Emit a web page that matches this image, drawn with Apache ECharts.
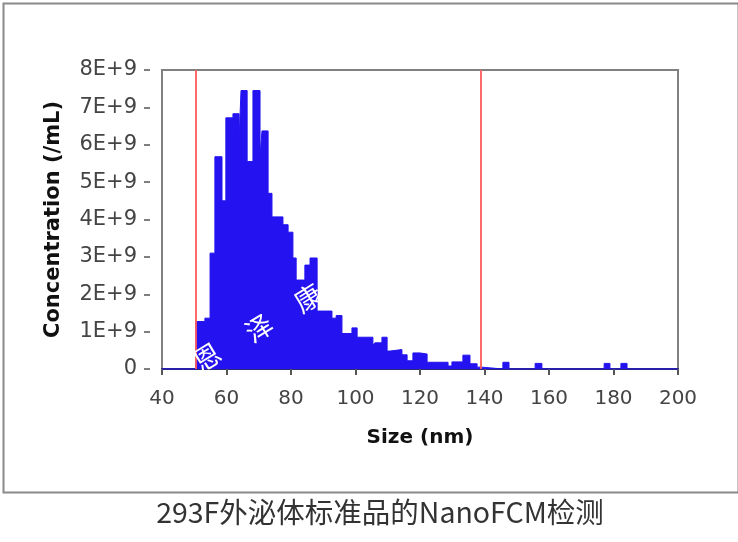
<!DOCTYPE html>
<html>
<head>
<meta charset="utf-8">
<script src="https://cdn.jsdelivr.net/npm/echarts@6/dist/echarts.min.js"></script>
<style>
html,body{margin:0;padding:0;background:#ffffff;}
#chart{width:738px;height:542px;}
</style>
</head>
<body>
<div id="chart"></div>
<script>
// Histogram bins: left edge of each bin (nm) and concentration (×1E+9 /mL)
const binStart = [40, 50.5, 53.3, 54.9, 56.4, 58.6, 59.8, 62.0, 63.9, 64.5, 66.4, 68.2, 70.4, 71.0, 72.9, 74.1, 77.5, 79.1, 80.6, 81.6, 84.3, 85.9, 88.1, 92.7, 94.0, 95.8, 98.9, 100.5, 105.4, 106.0, 108.2, 109.8, 110.7, 114.4, 116.0, 117.8, 120.0, 122.2, 128.7, 129.9, 133.3, 135.5, 137.7, 139.2, 145.7, 147.6, 155.7, 157.8, 177.1, 178.9, 182.3, 184.2, 200];
const concentrationE9 = [0, 1.27, 1.36, 3.1, 5.68, 4.5, 6.72, 6.83, 6.1, 7.45, 5.55, 7.45, 5.7, 6.37, 4.7, 4.07, 3.86, 3.66, 2.97, 2.38, 2.78, 2.97, 1.55, 1.36, 1.43, 0.95, 1.1, 0.85, 0.64, 0.7, 0.85, 0.48, 0.52, 0.38, 0.22, 0.43, 0.4, 0.18, 0.08, 0.19, 0.37, 0.14, 0.05, 0, 0.18, 0, 0.15, 0, 0.15, 0, 0.15, 0, 0];
// Gate lines (nm)
const gateLines = [50.5, 138.7];
// Axis settings
const xMin = 40, xMax = 200, xStep = 20;
const yMin = 0, yMax = 8e9, yStep = 1e9;
const xAxisTitle = 'Size (nm)';
const yAxisTitle = 'Concentration (/mL)';
const caption = '293F外泌体标准品的NanoFCM检测';
const watermark = ['恩', '泽', '康'];

const seriesData = binStart.map((x, i) => [x, concentrationE9[i] * 1e9]);

const chart = echarts.init(document.getElementById('chart'), null, {renderer: 'canvas'});

const wmPos = [[207, 357], [259, 328], [308, 298]];

const option = {
  animation: false,
  backgroundColor: '#ffffff',
  grid: {
    left: 162, top: 70, width: 516, height: 299,
    show: true, borderColor: '#808080', borderWidth: 2, backgroundColor: 'transparent'
  },
  xAxis: {
    type: 'value', min: xMin, max: xMax, interval: xStep,
    name: xAxisTitle, nameLocation: 'middle', nameGap: 59,
    nameTextStyle: {fontFamily: 'DejaVu Sans', fontSize: 20, fontWeight: 'bold', color: '#111'},
    axisLine: {show: true, onZero: false, lineStyle: {color: '#2a2a78', width: 2}},
    axisTick: {show: true, length: 6, lineStyle: {color: '#555', width: 2}},
    axisLabel: {margin: 20, fontFamily: 'DejaVu Sans', fontSize: 20, color: '#444'},
    splitLine: {show: false}
  },
  yAxis: {
    type: 'value', min: yMin, max: yMax, interval: yStep, offset: 12,
    name: yAxisTitle, nameLocation: 'middle', nameGap: 86,
    nameTextStyle: {fontFamily: 'DejaVu Sans', fontSize: 21, fontWeight: 'bold', color: '#111'},
    axisLine: {show: false},
    axisTick: {show: true, length: 6, lineStyle: {color: '#555', width: 1.5}},
    axisLabel: {
      margin: 13, fontFamily: 'DejaVu Sans', fontSize: 21, color: '#444',
      formatter: v => v === 0 ? '0' : (Math.round(v / 1e9) + 'E+9')
    },
    splitLine: {show: false}
  },
  series: [{
    type: 'line',
    step: 'end',
    data: seriesData,
    showSymbol: false,
    symbol: 'none',
    lineStyle: {color: '#2413f0', width: 1},
    areaStyle: {color: '#2413f0', opacity: 1},
    z: 2,
    markLine: {
      silent: true,
      symbol: ['none', 'none'],
      label: {show: false},
      lineStyle: {color: '#ff5a5a', width: 2, type: 'solid', opacity: 0.9},
      data: gateLines.map(v => ({xAxis: v}))
    }
  }],
  graphic: [
    {
      type: 'rect', left: 1, top: 1, z: 0, silent: true,
      shape: {x: 0, y: 0, width: 735, height: 489},
      style: {fill: 'none', stroke: '#8a8a8a', lineWidth: 2}
    },
    ...watermark.map((ch, i) => ({
      type: 'text', x: wmPos[i][0], y: wmPos[i][1], rotation: 0.55, z: 100, silent: true,
      style: {
        text: ch, fill: '#ffffff',
        font: '27px "Noto Sans CJK SC"',
        textAlign: 'center', textVerticalAlign: 'middle',
        align: 'center', verticalAlign: 'middle'
      }
    })),
    {
      type: 'text', x: 380, y: 512, z: 10, silent: true,
      style: {
        text: caption, fill: '#333333',
        font: '28.5px "Noto Sans CJK SC"',
        textAlign: 'center', textVerticalAlign: 'middle',
        align: 'center', verticalAlign: 'middle'
      }
    }
  ]
};
chart.setOption(option);
</script>
</body>
</html>
